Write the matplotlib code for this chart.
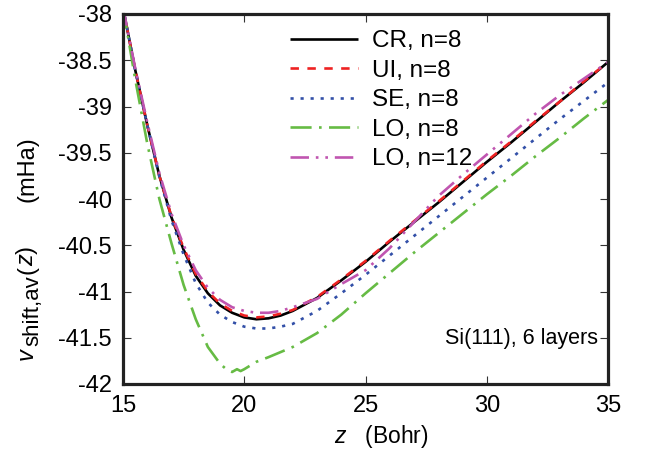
import matplotlib
matplotlib.use("Agg")
import matplotlib.pyplot as plt
import numpy as np

plt.rcParams['font.family'] = ['Liberation Sans', 'DejaVu Sans']
plt.rcParams['mathtext.fontset'] = 'custom'
plt.rcParams['mathtext.rm'] = 'Liberation Sans'
plt.rcParams['mathtext.it'] = 'Liberation Sans:italic'

# ---- data ----
z_cr = [15.0, 15.5, 16.0, 16.5, 17.0, 17.5, 18.0, 18.5, 19.0, 19.5, 20.0, 20.5, 21.0, 21.5, 22.0,
        23.0, 24.0, 25.0, 26.0, 27.0, 28.0, 29.0, 30.0, 31.0, 32.0, 33.0, 34.0, 35.0]
v_cr = [-37.93, -38.60, -39.20, -39.75, -40.20, -40.55, -40.83, -41.02, -41.15, -41.23, -41.28, -41.30,
        -41.29, -41.26, -41.21, -41.07, -40.88, -40.68, -40.46, -40.25, -40.04, -39.82, -39.60, -39.39,
        -39.17, -38.95, -38.74, -38.52]
v_ui = [-37.93, -38.60, -39.20, -39.75, -40.19, -40.53, -40.81, -41.00, -41.13, -41.21, -41.26, -41.28,
        -41.27, -41.24, -41.20, -41.06, -40.87, -40.67, -40.45, -40.24, -40.03, -39.81, -39.59, -39.38,
        -39.16, -38.95, -38.73, -38.52]
v_se = [-37.93, -38.60, -39.20, -39.76, -40.23, -40.60, -40.91, -41.12, -41.25, -41.33, -41.38, -41.40,
        -41.40, -41.38, -41.35, -41.21, -41.02, -40.82, -40.61, -40.40, -40.19, -39.98, -39.77, -39.56,
        -39.35, -39.14, -38.94, -38.74]
v_lo12 = [-37.93, -38.58, -39.17, -39.72, -40.16, -40.50, -40.77, -40.96, -41.09, -41.17, -41.21, -41.23,
          -41.23, -41.21, -41.17, -41.08, -40.92, -40.77, -40.53, -40.25, -39.97, -39.74, -39.52, -39.30,
          -39.08, -38.88, -38.70, -38.52]
z_lo8 = [15.0, 15.5, 16.0, 16.5, 17.0, 17.5, 18.0, 18.5, 19.0, 19.3, 19.5, 19.7, 19.85, 20.0, 20.5,
         21.0, 22.0, 23.0, 24.0, 25.0, 26.0, 27.0, 28.0, 29.0, 30.0, 31.0, 32.0, 33.0, 34.0, 35.0]
v_lo8 = [-37.93, -38.70, -39.40, -40.00, -40.48, -40.93, -41.30, -41.60, -41.78, -41.85, -41.87, -41.84,
         -41.86, -41.84, -41.76, -41.71, -41.60, -41.45, -41.25, -41.02, -40.80, -40.58, -40.37, -40.16,
         -39.95, -39.75, -39.54, -39.34, -39.13, -38.93]

labels = ["CR, n=8", "UI, n=8", "SE, n=8", "LO, n=8", "LO, n=12"]
xticks = [15, 20, 25, 30, 35]
yticks = [-42, -41.5, -41, -40.5, -40, -39.5, -39, -38.5, -38]
ytick_labels = ["-42", "-41.5", "-41", "-40.5", "-40", "-39.5", "-39", "-38.5", "-38"]

W, H = 657, 459
fig = plt.figure(figsize=(W/100, H/100), dpi=100)
ax = fig.add_axes([123/W, 1-384/H, (608-123)/W, (384-14)/H])

lw = 1.9
ax.plot(z_cr, v_cr, color='black', lw=lw, label=labels[0], solid_capstyle='butt')
ax.plot(z_cr, v_ui, color='#ee2222', lw=lw, dashes=(3.2, 3.2), label=labels[1])
ax.plot(z_cr, v_se, color='#3350a8', lw=lw, dashes=(1.2, 2.6), label=labels[2])
ax.plot(z_lo8, v_lo8, color='#66bb44', lw=lw, dashes=(8, 2.8, 1.0, 2.8), label=labels[3])
ax.plot(z_cr, v_lo12, color='#c055b0', lw=lw, dashes=(7, 2.6, 1.0, 2.6, 1.0, 2.6), label=labels[4])

FS = 17
ax.set_xlim(15, 35)
ax.set_ylim(-42, -38)
ax.set_xticks(xticks)
ax.set_xticklabels([str(t) for t in xticks])
ax.set_yticks(yticks)
ax.set_yticklabels(ytick_labels)
ax.tick_params(direction='in', length=6, width=0.8, color='#333333', labelsize=FS,
               top=True, right=True)
ax.tick_params(axis='y', pad=8)
ax.tick_params(axis='x', pad=8)
for s in ax.spines.values():
    s.set_linewidth(2.3)
    s.set_color('#222222')

ax.set_xlabel(r'$z$   (Bohr)', fontsize=16.5)
ax.xaxis.set_label_coords((381-123)/485, -(437-384)/370)
ax.xaxis.label.set_va('center')

ax.text(0.979, 0.124, 'Si(111), 6 layers', transform=ax.transAxes, ha='right', va='center',
        fontsize=15.5)

leg = ax.legend(loc='upper left', bbox_to_anchor=((290-123)/485, (384-30)/370), frameon=False,
                fontsize=17.5, handlelength=2.8, handletextpad=0.58, labelspacing=0.31,
                borderpad=0, borderaxespad=0)

# y-axis label built from pieces (rotated), gnuplot-like subscript
fig.canvas.draw()
renderer = fig.canvas.get_renderer()
base_x = 33.0          # baseline x (pixels)
ypos = H - 360.0       # start (pixels from bottom)
pieces = [("v", 17, 'italic', 0.0, 2.0),
          ("shift,av", 16, 'normal', 5.0, 1.0),
          ("(", 17, 'normal', 0.0, 0.0),
          ("z", 17, 'italic', 0.0, 0.0),
          (")", 17, 'normal', 0.0, 45.0),
          ("(mHa)", 17, 'normal', 0.0, 0.0)]
for s, fs, style, dx, gap in pieces:
    t = fig.text((base_x + dx)/W, ypos/H, s, rotation=90, rotation_mode='anchor',
                 ha='left', va='baseline', fontsize=fs, style=style)
    bb = t.get_window_extent(renderer)
    ypos += bb.height + gap

fig.savefig('out.png', dpi=100)
